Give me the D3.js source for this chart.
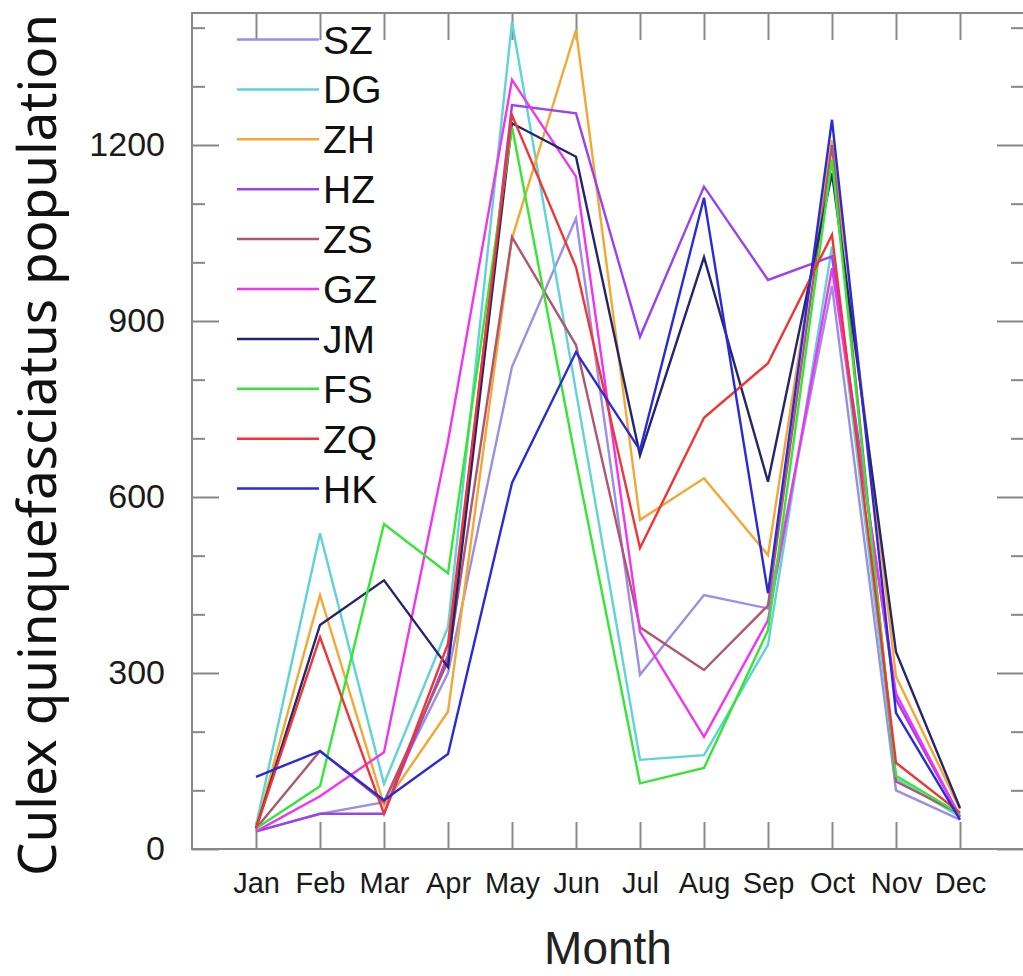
<!DOCTYPE html>
<html>
<head>
<meta charset="utf-8">
<script src="https://cdn.jsdelivr.net/npm/d3@7"></script>
<style>
  body { margin: 0; background: #fff; }
  svg { display: block; }
</style>
</head>
<body>
<div id="chart"></div>
<script>
// Data

    var months = ["Jan", "Feb", "Mar", "Apr", "May", "Jun", "Jul", "Aug", "Sep", "Oct", "Nov", "Dec"];
    var sites  = ["SZ", "DG", "ZH", "HZ", "ZS", "GZ", "JM", "FS", "ZQ", "HK"];

    var SZ = [30, 60, 80, 300, 822, 1075, 297, 433, 410, 960, 100, 50];
    var DG = [40, 538, 111, 378, 1410, 780, 152, 160, 348, 1027, 120, 55];
    var ZH = [35, 433, 75, 234, 1041, 1396, 561, 632, 501, 1208, 294, 68];
    var HZ = [30, 60, 60, 330, 1268, 1254, 873, 1129, 970, 1010, 255, 55];
    var ZS = [35, 167, 80, 320, 1043, 859, 378, 305, 415, 1200, 115, 60];
    var GZ = [30, 90, 165, 695, 1311, 1146, 370, 191, 390, 990, 265, 55];
    var JM = [35, 382, 458, 310, 1237, 1180, 671, 1009, 626, 1152, 336, 70];
    var FS = [35, 107, 554, 470, 1231, 660, 112, 138, 373, 1175, 125, 60];
    var ZQ = [35, 361, 60, 350, 1251, 992, 513, 735, 828, 1047, 147, 62];
    var HK = [123, 167, 83, 162, 624, 847, 680, 1110, 436, 1243, 232, 50];

    var yMajorTicks = [0, 300, 600, 900, 1200];
    var yMinorTicks = [100, 200, 400, 500, 700, 800, 1000, 1100, 1300, 1400];

    var seriesValues = [SZ, DG, ZH, HZ, ZS, GZ, JM, FS, ZQ, HK];
    var siteColors = ["#9c8de6", "#5fd3d6", "#f5a733", "#9a42f0", "#b0576f",
                      "#f035f0", "#25256b", "#35e635", "#f23434", "#2a2ad8"];

// Constants setup

    var svgWidth  = 1023;
    var svgHeight = 976;

    var plot = { left: 192, right: 1024, top: 13, bottom: 849 };

    var majorLen = 27, minorLen = 13;
    var frameColor = "#888";
    var labelFont = "'Liberation Sans', Arial, Helvetica, sans-serif";

// Start of SVG

    var svg = d3.select("#chart")
        .append("svg")
            .attr("width", svgWidth)
            .attr("height", svgHeight);

    svg.append("rect")
        .attr("width", svgWidth)
        .attr("height", svgHeight)
        .attr("fill", "#fff");

    // scales
    var x = d3.scaleLinear().domain([0, 13]).range([plot.left, plot.right]);
    var y = d3.scaleLinear().domain([0, 1425]).range([plot.bottom, plot.top]);

    // axes - ticks point inward on all four sides
    function styleAxis(g) {
        g.select(".domain").remove();
        g.selectAll(".tick line")
            .attr("stroke", frameColor)
            .attr("stroke-width", 2);
        g.selectAll(".tick text")
            .attr("fill", "#1a1a1a")
            .attr("font-family", labelFont);
    }

    svg.append("g")
        .attr("transform", "translate(" + plot.left + ",0)")
        .call(d3.axisLeft(y).tickValues(yMinorTicks).tickSizeInner(-minorLen).tickSizeOuter(0).tickFormat(""))
        .call(styleAxis);

    svg.append("g")
        .attr("transform", "translate(" + plot.right + ",0)")
        .call(d3.axisRight(y).tickValues(yMinorTicks).tickSizeInner(-minorLen).tickSizeOuter(0).tickFormat(""))
        .call(styleAxis);

    svg.append("g")
        .attr("transform", "translate(" + plot.left + ",0)")
        .call(d3.axisLeft(y).tickValues(yMajorTicks).tickSizeInner(-majorLen).tickSizeOuter(0)
            .tickPadding(27).tickFormat(d3.format("d")))
        .call(styleAxis)
        .selectAll(".tick text")
            .attr("font-size", 34);

    svg.append("g")
        .attr("transform", "translate(" + plot.right + ",0)")
        .call(d3.axisRight(y).tickValues(yMajorTicks).tickSizeInner(-majorLen).tickSizeOuter(0).tickFormat(""))
        .call(styleAxis);

    svg.append("g")
        .attr("transform", "translate(0," + plot.bottom + ")")
        .call(d3.axisBottom(x).tickValues(d3.range(1, 13)).tickSizeInner(-majorLen).tickSizeOuter(0)
            .tickPadding(23).tickFormat(function(d) { return months[d - 1]; }))
        .call(styleAxis)
        .selectAll(".tick text")
            .attr("font-size", 29);

    svg.append("g")
        .attr("transform", "translate(0," + plot.top + ")")
        .call(d3.axisTop(x).tickValues(d3.range(1, 13)).tickSizeInner(-majorLen).tickSizeOuter(0).tickFormat(""))
        .call(styleAxis);

    // frame
    svg.append("rect")
        .attr("x", plot.left)
        .attr("y", plot.top)
        .attr("width", plot.right - plot.left)
        .attr("height", plot.bottom - plot.top)
        .attr("fill", "none")
        .attr("stroke", frameColor)
        .attr("stroke-width", 2);

    // lines
    var line = d3.line()
        .x(function(d, i) { return x(i + 1); })
        .y(function(d) { return y(d); });

    svg.selectAll(".siteLine")
        .data(seriesValues)
        .enter()
        .append("path")
            .attr("class", "siteLine")
            .attr("d", line)
            .attr("fill", "none")
            .attr("stroke", function(d, i) { return siteColors[i]; })
            .attr("stroke-width", 2.4)
            .attr("stroke-linejoin", "miter");

    // legend
    var legend = svg.selectAll(".legendItem")
        .data(sites)
        .enter()
        .append("g")
            .attr("class", "legendItem")
            .attr("transform", function(d, i) { return "translate(0," + (39.5 + i * 49.9) + ")"; });

    legend.append("line")
        .attr("x1", 237)
        .attr("x2", 319)
        .attr("stroke", function(d, i) { return siteColors[i]; })
        .attr("stroke-width", 2.5);

    legend.append("text")
        .attr("x", 323)
        .attr("y", 14)
        .attr("font-family", labelFont)
        .attr("font-size", 39)
        .attr("fill", "#111")
        .text(function(d) { return d; });

    // axis titles
    svg.append("text")
        .attr("x", (plot.left + plot.right) / 2)
        .attr("y", 964)
        .attr("text-anchor", "middle")
        .attr("font-family", labelFont)
        .attr("font-size", 46)
        .attr("fill", "#222")
        .text("Month");

    svg.append("text")
        .attr("transform", "translate(56,445) rotate(-90)")
        .attr("text-anchor", "middle")
        .attr("font-family", "'Noto Sans', 'Open Sans', sans-serif")
        .attr("font-size", 53)
        .attr("fill", "#111")
        .text("Culex quinquefasciatus population");
</script>
</body>
</html>
